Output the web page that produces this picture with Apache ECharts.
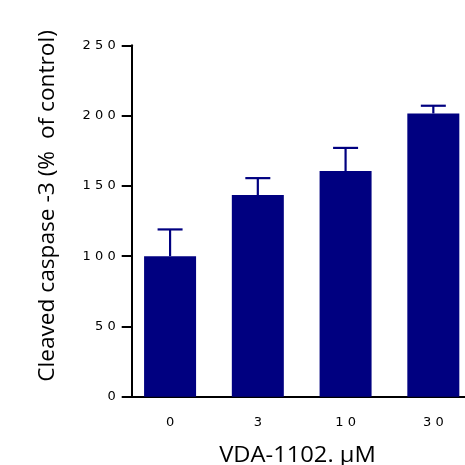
<!DOCTYPE html>
<html><head><meta charset="utf-8">
<script src="https://cdn.jsdelivr.net/npm/echarts@6/dist/echarts.min.js"></script>
<style>html,body{margin:0;padding:0;background:#fff}#c{width:465px;height:465px}</style>
</head><body><div id="c"></div>
<script>
const categories = ['0', '3', '10', '30'];
const means = [100, 143.5, 160.5, 201.5];
const errors = [19, 12, 16.5, 5.5];
const yTicks = [0, 50, 100, 150, 200, 250];
const yTitle = 'Cleaved caspase -3 (%  of control)';
const xTitle = 'VDA-1102. μM';

const NAVY = '#000080';
const spaced = s => String(s).split('').join(' ');
const chart = echarts.init(document.getElementById('c'), null, {renderer: 'canvas'});
chart.setOption({
  animation: false,
  grid: {left: 126.2, top: 45.3, height: 351.4, width: 351, containLabel: false, outerBoundsMode: 'none'},
  xAxis: {
    type: 'category', data: categories,
    axisLine: {lineStyle: {color: '#000', width: 2}},
    axisTick: {alignWithLabel: true, length: 7, lineStyle: {color: '#000', width: 2}},
    axisLabel: {color: '#000', fontFamily: 'DejaVu Sans', fontSize: 13, margin: 19, formatter: v => spaced(v)}
  },
  yAxis: {
    type: 'value', min: yTicks[0], max: yTicks[yTicks.length - 1], interval: 50, offset: -5.5,
    splitLine: {show: false},
    axisLine: {show: true, lineStyle: {color: '#000', width: 2}},
    axisTick: {show: true, length: 10, lineStyle: {color: '#000', width: 2}},
    axisLabel: {color: '#000', fontFamily: 'DejaVu Sans', fontSize: 13, margin: 16, formatter: v => spaced(v)}
  },
  graphic: [{
    type: 'text', x: 48, y: 206, rotation: Math.PI / 2, scaleX: 1.08,
    style: {text: yTitle, fill: '#000', font: '21px "Open Sans"', align: 'center', verticalAlign: 'middle'}
  }, {
    type: 'text', x: 297.5, y: 456, scaleX: 1.13,
    style: {text: xTitle, fill: '#000', font: '21px "Open Sans"', align: 'center', verticalAlign: 'middle'}
  }],
  series: [
    {type: 'bar', data: means, barWidth: 52, itemStyle: {color: NAVY}, z: 2},
    {type: 'custom', z: 3,
      data: means.map((m, i) => [i, m, m + errors[i]]),
      renderItem: (params, api) => {
        const base = api.coord([api.value(0), api.value(1)]);
        const top = api.coord([api.value(0), api.value(2)]);
        const hw = 12.5;
        return {type: 'group', children: [
          {type: 'line', shape: {x1: base[0], y1: base[1], x2: top[0], y2: top[1]}, style: {stroke: NAVY, lineWidth: 2.2}},
          {type: 'line', shape: {x1: top[0] - hw, y1: top[1], x2: top[0] + hw, y2: top[1]}, style: {stroke: NAVY, lineWidth: 2.2}}
        ]};
      }
    }
  ]
});
</script></body></html>
